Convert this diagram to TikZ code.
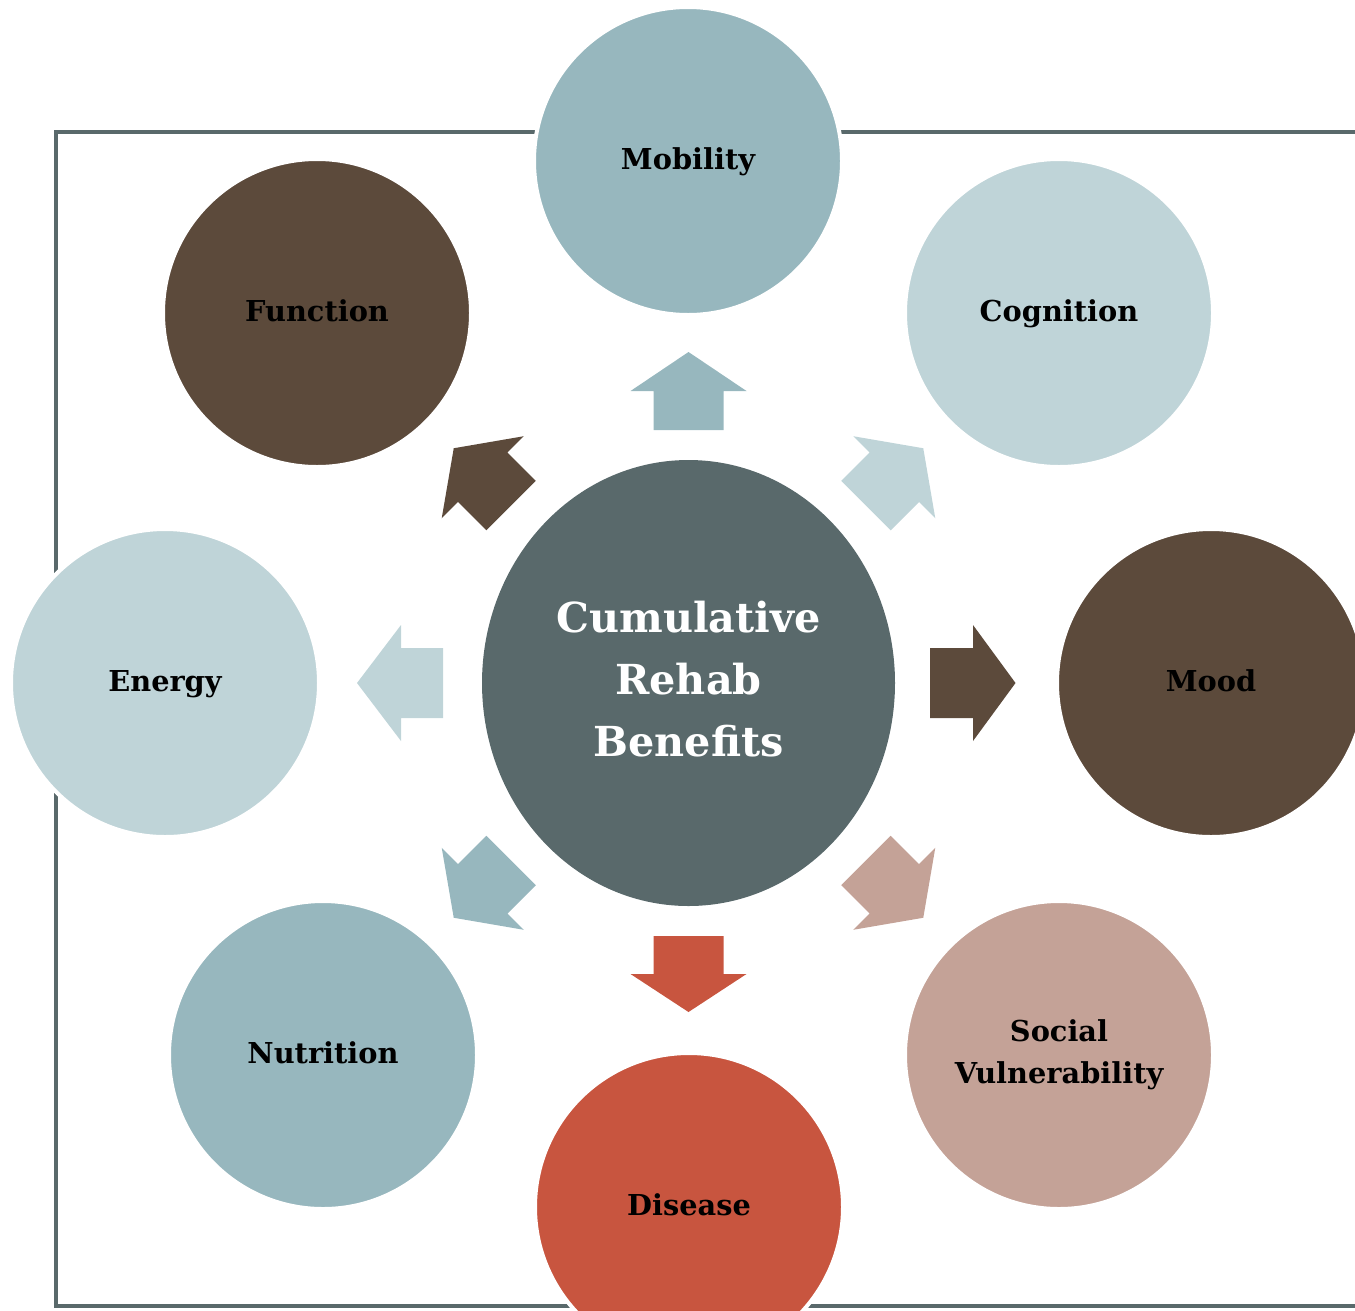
\documentclass[tikz,border=0pt]{standalone}
\usepackage{fontspec}
\setmainfont{DejaVu Serif}
\usetikzlibrary{shapes.geometric}
\definecolor{cCenter}{HTML}{59696B}
\definecolor{cMob}{HTML}{97B7BE}
\definecolor{cCog}{HTML}{BFD4D8}
\definecolor{cBrown}{HTML}{5C4A3B}
\definecolor{cSoc}{HTML}{C4A297}
\definecolor{cDis}{HTML}{C8553F}
\tikzset{
  bubble/.style={circle, minimum size=308*0.75pt, inner sep=0pt, draw=white, line width=3pt, align=center,
    font=\fontsize{21.6}{31.5}\selectfont\bfseries, text=black},
  bubbleone/.style={bubble, execute at begin node=\strut},
  framebox/.style={draw=cCenter, line width=3pt}
}
\begin{document}
\begin{tikzpicture}[x=0.75pt, y=-0.75pt]
\useasboundingbox (0,0) rectangle (1355,1310);
\clip (0,0) rectangle (1355,1310);
% frame
\draw[framebox] (56,132) rectangle (1365,1306);
% center
\node[ellipse, minimum width=413*0.75pt, minimum height=446*0.75pt, inner sep=0pt, fill=cCenter, draw=none]
  (ctr) at (688.5,683) {};
\node[text=white, align=center, font=\fontsize{31}{46.5}\selectfont\bfseries, inner sep=0pt]
  (ctrtext) at (688.5,679) {Cumulative\\Rehab\\Benefits};
% outer bubbles
\node[bubbleone, fill=cMob]   (mob) at (688,161)   {Mobility};
\node[bubbleone, fill=cCog]   (cog) at (1059,313)  {Cognition};
\node[bubbleone, fill=cBrown] (moo) at (1211,683)  {Mood};
\node[bubble, fill=cSoc]      (soc) at (1059,1055) {Social\\Vulnerability};
\node[bubbleone, fill=cDis]   (dis) at (689,1207)  {Disease};
\node[bubbleone, fill=cMob]   (nut) at (323,1055)  {Nutrition};
\node[bubbleone, fill=cCog]   (ene) at (165,683)   {Energy};
\node[bubbleone, fill=cBrown] (fun) at (317,313)   {Function};
% block arrows: angle / colour / shaft start / head base / tip
\foreach \ang/\col/\ra/\rb/\rc in {90/cMob/253/292/331, 45/cCog/251/291/332, 0/cBrown/241.5/284.5/327,
    -45/cSoc/251/291/332, -90/cDis/253/291/329, -135/cMob/251/291/332, 180/cCog/245.5/287.5/331.5, 135/cBrown/251/291/332}{
  \begin{scope}[shift={(ctr.center)}, rotate=\ang]
    \fill[\col] (\ra,-35) -- (\rb,-35) -- (\rb,-58) -- (\rc,0) -- (\rb,58) -- (\rb,35) -- (\ra,35) -- cycle;
  \end{scope}
}
\end{tikzpicture}
\end{document}
